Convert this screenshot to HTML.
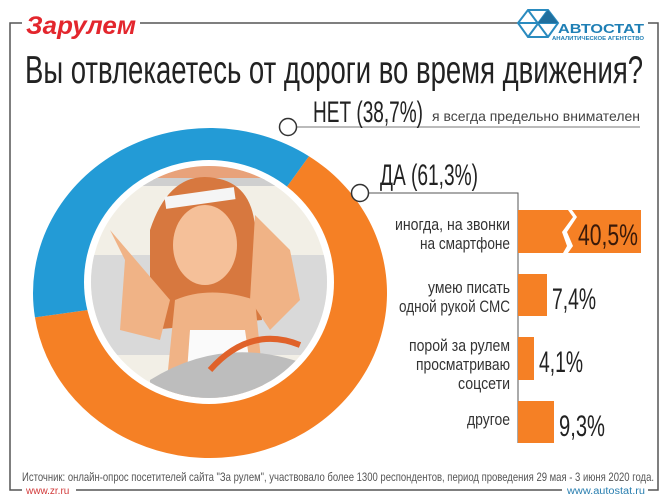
<!DOCTYPE html>
<html><head><meta charset="utf-8"><style>
html,body{margin:0;padding:0;background:#fff;}
svg{display:block;}
text{font-family:"Liberation Sans",sans-serif;}
</style></head><body>
<svg width="670" height="502" viewBox="0 0 670 502" xmlns="http://www.w3.org/2000/svg">
<rect width="670" height="502" fill="#fff"/>
<g stroke="#555" stroke-width="1.5" fill="none">
<path d="M22 23 H10 V490 H22"/>
<path d="M140 23 H518"/>
<path d="M648 23 H658 V490 H648"/>
<path d="M76 490 H562"/>
</g>
<text x="26" y="34" font-size="25" font-weight="bold" font-style="italic" fill="#e3262d" textLength="110" lengthAdjust="spacingAndGlyphs">Зарулем</text>
<g stroke="#2a8bbf" stroke-width="2" fill="none">
<polygon points="528,10 548,10 558,23 548,37 528,37 518,23"/>
<line x1="528" y1="10" x2="548" y2="37"/><line x1="548" y1="10" x2="528" y2="37"/><line x1="518" y1="23" x2="558" y2="23"/>
</g>
<polygon points="548,10 558,23 538,23" fill="#1f6f9e"/>
<text x="558" y="33" font-size="13" font-weight="bold" fill="#1f7fb5" textLength="86" lengthAdjust="spacingAndGlyphs">АВТОСТАТ</text>
<text x="552" y="40" font-size="5" font-weight="bold" fill="#1f7fb5" textLength="92" lengthAdjust="spacingAndGlyphs">АНАЛИТИЧЕСКОЕ АГЕНТСТВО</text>
<text x="25" y="83" font-size="39" fill="#222" textLength="618" lengthAdjust="spacingAndGlyphs">Вы отвлекаетесь от дороги во время движения?</text>
<g transform="translate(210,293) scale(177,165)">
<path d="M0.559,-0.829 A1 1 0 1 1 -0.989,0.148 L-0.605,0.09 A0.611 0.611 0 1 0 0.342,-0.507 Z" fill="#f58025"/>
<path d="M-0.989,0.148 A1 1 0 0 1 0.559,-0.829 L0.342,-0.507 A0.611 0.611 0 0 0 -0.605,0.09 Z" fill="#239bd6"/>
</g>
<ellipse cx="209" cy="282" rx="125" ry="122" fill="#fff"/>
<ellipse cx="209" cy="282" rx="118" ry="116" fill="#f2efe6"/>
<clipPath id="pc"><ellipse cx="209" cy="282" rx="118" ry="116"/></clipPath>
<g clip-path="url(#pc)">
<rect x="90" y="160" width="240" height="20" fill="#e8a27a"/>
<rect x="90" y="178" width="240" height="8" fill="#cfcfcf"/>
<rect x="90" y="255" width="240" height="100" fill="#d9d9d9"/>
<path d="M150 230 Q170 170 215 178 Q260 185 255 250 L262 320 L150 330 Z" fill="#d7783f"/>
<path d="M110 230 L125 260 L120 330 L160 340 L170 300 Z" fill="#f0b386"/>
<path d="M255 215 L290 250 L300 300 L270 330 L250 300 Z" fill="#f0b386"/>
<ellipse cx="205" cy="245" rx="32" ry="40" fill="#f5c099"/>
<path d="M175 300 Q210 285 255 300 L265 400 L165 400 Z" fill="#f0b386"/>
<path d="M190 330 L245 330 L255 400 L185 400 Z" fill="#fafafa"/>
<path d="M150 380 Q230 330 320 370 L320 400 L150 400 Z" fill="#bdbdbd"/>
<path d="M210 370 Q250 325 300 345" stroke="#e0622a" stroke-width="6" fill="none"/>
<rect x="165" y="192" width="70" height="12" fill="#f5f5f5" transform="rotate(-8 200 198)"/>
</g>
<line x1="296" y1="127" x2="640" y2="127" stroke="#777" stroke-width="1"/>
<circle cx="288" cy="127" r="8.5" fill="#fff" stroke="#333" stroke-width="1.5"/>
<text x="313" y="122" font-size="30" fill="#222" textLength="110" lengthAdjust="spacingAndGlyphs">НЕТ (38,7%)</text>
<text x="432" y="121" font-size="14" fill="#444" textLength="208" lengthAdjust="spacingAndGlyphs">я всегда предельно внимателен</text>
<polyline points="368,193 518,193 518,443" stroke="#555" stroke-width="1" fill="none"/>
<circle cx="360" cy="193" r="8.5" fill="#fff" stroke="#333" stroke-width="1.5"/>
<text x="380" y="185" font-size="30" fill="#222" textLength="98" lengthAdjust="spacingAndGlyphs">ДА (61,3%)</text>
<path d="M518 210 H568 L573 217 L562 232 L567 246 L563 253 H518 Z" fill="#f58025"/>
<path d="M572 210 H641 V253 H568 L573 246 L567 232 L577 217 Z" fill="#f58025"/>
<rect x="518" y="274" width="29" height="42" fill="#f58025"/>
<rect x="518" y="337" width="16" height="43" fill="#f58025"/>
<rect x="518" y="401" width="36" height="42" fill="#f58025"/>
<g font-size="17" fill="#333" text-anchor="end">
<text x="510" y="230" textLength="115" lengthAdjust="spacingAndGlyphs">иногда, на звонки</text>
<text x="510" y="249" textLength="90" lengthAdjust="spacingAndGlyphs">на смартфоне</text>
<text x="510" y="293" textLength="82" lengthAdjust="spacingAndGlyphs">умею писать</text>
<text x="510" y="312" textLength="111" lengthAdjust="spacingAndGlyphs">одной рукой СМС</text>
<text x="510" y="351" textLength="101" lengthAdjust="spacingAndGlyphs">порой за рулем</text>
<text x="510" y="370" textLength="94" lengthAdjust="spacingAndGlyphs">просматриваю</text>
<text x="510" y="389" textLength="52" lengthAdjust="spacingAndGlyphs">соцсети</text>
<text x="510" y="425" textLength="43" lengthAdjust="spacingAndGlyphs">другое</text>
</g>
<g font-size="30" fill="#222">
<text x="578" y="245" fill="#3a1a0a" textLength="60" lengthAdjust="spacingAndGlyphs">40,5%</text>
<text x="552" y="309" textLength="44" lengthAdjust="spacingAndGlyphs">7,4%</text>
<text x="539" y="372" textLength="44" lengthAdjust="spacingAndGlyphs">4,1%</text>
<text x="559" y="436" textLength="46" lengthAdjust="spacingAndGlyphs">9,3%</text>
</g>
<text x="22" y="481" font-size="12" fill="#555" textLength="632" lengthAdjust="spacingAndGlyphs">Источник: онлайн-опрос посетителей сайта "За рулем", участвовало более 1300 респондентов, период проведения 29 мая - 3 июня 2020 года.</text>
<text x="26" y="494" font-size="10" fill="#d23a3a">www.zr.ru</text>
<text x="567" y="494" font-size="10" fill="#2a7fb0" textLength="78" lengthAdjust="spacingAndGlyphs">www.autostat.ru</text>
</svg>
</body></html>
